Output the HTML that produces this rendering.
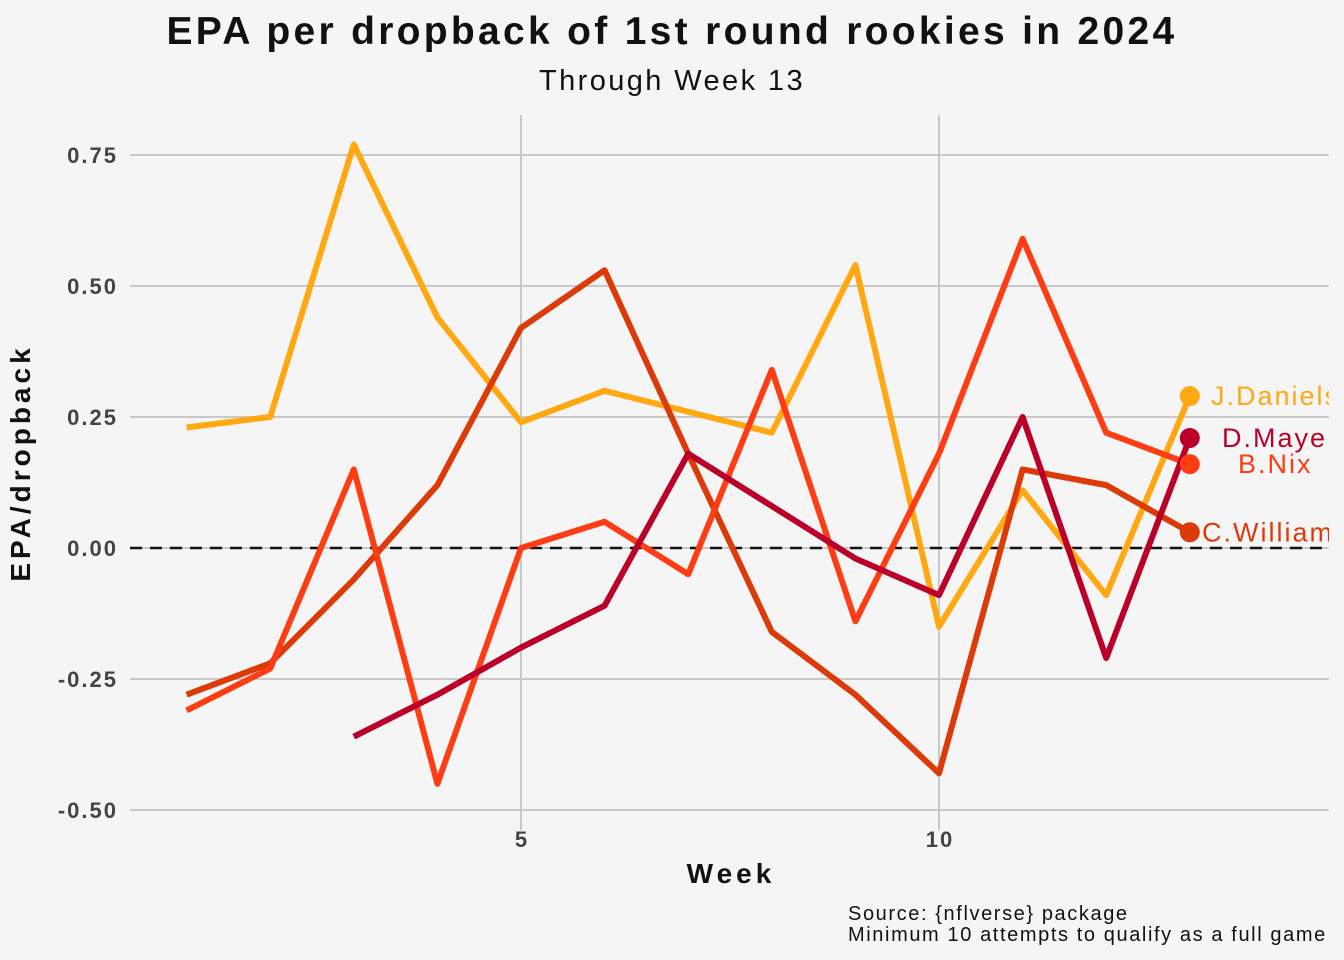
<!DOCTYPE html>
<html><head><meta charset="utf-8"><style>
body{margin:0;background:#f5f5f5;}
svg{display:block;font-family:"Liberation Sans",sans-serif;}
</style></head><body>
<svg id="chart" width="1344" height="960" viewBox="0 0 1344 960">
<rect x="0" y="0" width="1344" height="960" fill="#f5f5f5"/>
<text x="672" y="44" text-anchor="middle" font-size="39" font-weight="bold" letter-spacing="3.3" fill="#111">EPA per dropback of 1st round rookies in 2024</text>
<text x="672" y="90" text-anchor="middle" font-size="29" letter-spacing="2.4" fill="#111">Through Week 13</text>
<g id="grid"></g>
<g id="series"></g>
<text x="30" y="463" transform="rotate(-90 30 463)" text-anchor="middle" font-size="28" font-weight="bold" letter-spacing="4" fill="#111">EPA/dropback</text>
<text x="731" y="883" text-anchor="middle" font-size="28" font-weight="bold" letter-spacing="4" fill="#111">Week</text>
<text x="848" y="920" font-size="20" letter-spacing="1.6" fill="#111">Source: {nflverse} package</text>
<text x="848" y="941" font-size="20" letter-spacing="1.6" fill="#111">Minimum 10 attempts to qualify as a full game</text>
</svg>
<script>
const weeks=[1,2,3,4,5,6,7,8,9,10,11,12,13];
const daniels=[0.23,0.25,0.77,0.44,0.24,0.30,0.26,0.22,0.54,-0.15,0.11,-0.09,0.29];
const williams=[-0.28,-0.22,-0.06,0.12,0.42,0.53,0.18,-0.16,-0.28,-0.43,0.15,0.12,0.03];
const nix=[-0.31,-0.23,0.15,-0.45,0.00,0.05,-0.05,0.34,-0.14,0.18,0.59,0.22,0.16];
const maye=[null,null,-0.36,-0.28,-0.19,-0.11,0.18,0.08,-0.02,-0.09,0.25,-0.21,0.21];
const yTicks=[0.75,0.5,0.25,0,-0.25,-0.5];
const yTickLabels=["0.75","0.50","0.25","0.00","-0.25","-0.50"];
const xTicks=[5,10];
const L=130,R=1329,T=115,B=830;
const x=w=>521+(w-5)*83.6;
const y=v=>548-v*524;
const NS="http://www.w3.org/2000/svg";
const mk=(t,a,p)=>{const e=document.createElementNS(NS,t);for(const k in a)e.setAttribute(k,a[k]);p.appendChild(e);return e;};
const svg=document.getElementById('chart');
const grid=document.getElementById('grid');
const ser=document.getElementById('series');
const defs=mk('defs',{},svg);
const cp=mk('clipPath',{id:'clip'},defs);mk('rect',{x:L,y:0,width:R-L,height:960},cp);
yTicks.forEach((v,i)=>{
 const g=mk('line',{x1:L,x2:R,y1:y(v),y2:y(v),stroke:'#c8c8c8','stroke-width':2},grid);
 
 const t=mk('text',{x:118,y:y(v)+8,'text-anchor':'end','font-size':22,'font-weight':'bold','letter-spacing':2,fill:'#444'},grid);
 t.textContent=yTickLabels[i];
 
});
xTicks.forEach(w=>{
 const g=mk('line',{x1:x(w),x2:x(w),y1:T,y2:B,stroke:'#c8c8c8','stroke-width':2},grid);
 
 const t=mk('text',{x:x(w)+1,y:847,'text-anchor':'middle','font-size':22,'font-weight':'bold','letter-spacing':2,fill:'#444'},grid);
 t.textContent=String(w);
 
});
const zl=mk('line',{x1:L,x2:R,y1:y(0),y2:y(0),stroke:'#111','stroke-width':2.5,'stroke-dasharray':'12,8'},grid);

const series=[
 {name:'J.Daniels',vals:daniels,color:'#FFA812',lx:1211},
 {name:'C.Williams',vals:williams,color:'#DD3A0A',lx:1202},
 {name:'B.Nix',vals:nix,color:'#FF3D14',lx:1238},
 {name:'D.Maye',vals:maye,color:'#BA0028',lx:1222}
];
series.forEach(s=>{
 const pts=[];weeks.forEach((w,i)=>{if(s.vals[i]!==null)pts.push(x(w)+','+y(s.vals[i]));});
 const p=mk('polyline',{points:pts.join(' '),fill:'none',stroke:s.color,'stroke-width':6,'stroke-linejoin':'round'},ser);
 
 
});
series.forEach(s=>{
 const li=weeks.length-1,v=s.vals[li];
 const c=mk('circle',{cx:x(weeks[li]),cy:y(v),r:10,fill:s.color},ser);
 
 
 const t=mk('text',{x:s.lx,y:y(v)+9,'font-size':27,'letter-spacing':2,fill:s.color,'clip-path':'url(#clip)'},ser);
 t.textContent=s.name;
 
 
});
</script>
</body></html>
